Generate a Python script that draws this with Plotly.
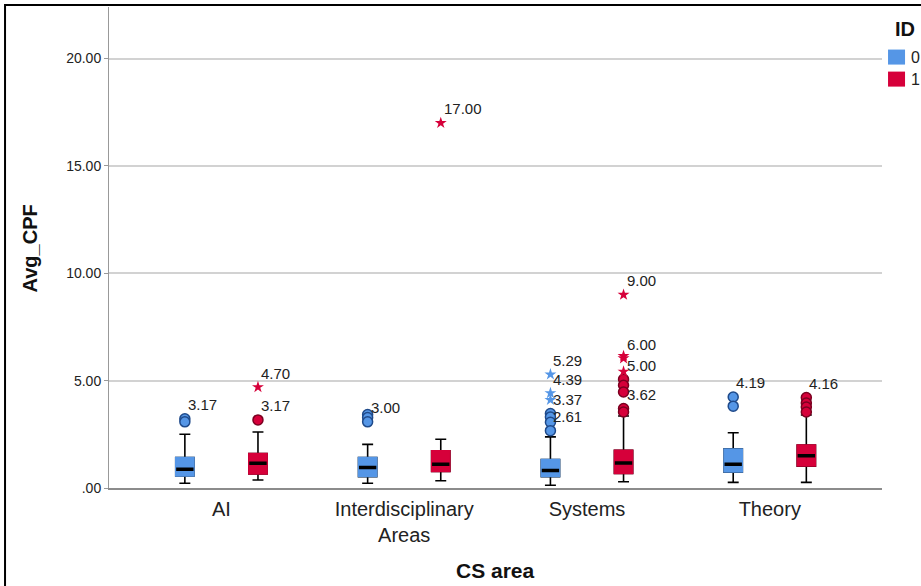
import plotly.graph_objects as go

# ---------------- data ----------------
categories = ["AI", "Interdisciplinary<br>Areas", "Systems", "Theory"]
id_names = ["0", "1"]

# ID 0 box statistics
q1_0 = [0.56, 0.53, 0.53, 0.74]
med_0 = [0.87, 0.96, 0.82, 1.11]
q3_0 = [1.42, 1.42, 1.33, 1.82]
lo_0 = [0.22, 0.22, 0.13, 0.26]
hi_0 = [2.50, 2.03, 2.38, 2.57]

# ID 1 box statistics
q1_1 = [0.65, 0.77, 0.68, 1.02]
med_1 = [1.15, 1.11, 1.17, 1.50]
q3_1 = [1.61, 1.73, 1.76, 2.00]
lo_1 = [0.37, 0.34, 0.29, 0.26]
hi_1 = [2.61, 2.27, 3.35, 3.40]

# outliers (circles) and extremes (stars), by category index
circ_cat_0 = [0, 0, 1, 1, 1, 2, 2, 2, 2, 3, 3]
circ_val_0 = [3.22, 3.08, 3.42, 3.28, 3.08, 3.47, 3.31, 3.06, 2.67, 4.24, 3.81]
star_cat_0 = [2, 2, 2]
star_val_0 = [5.29, 4.42, 4.10]

circ_cat_1 = [0, 2, 2, 2, 2, 2, 3, 3, 3, 3]
circ_val_1 = [3.17, 5.06, 4.78, 4.47, 3.70, 3.54, 4.21, 3.96, 3.77, 3.54]
star_cat_1 = [0, 1, 2, 2, 2, 2]
star_val_1 = [4.70, 17.00, 9.00, 6.15, 6.04, 5.42]

# point labels
lab_text_0 = ["3.17", "3.00", "5.29", "4.39", "3.37", "2.61", "4.19"]
lab_cat_0 = [0, 1, 2, 2, 2, 2, 3]
lab_val_0 = [3.22, 3.08, 5.29, 4.42, 3.47, 2.67, 4.24]

lab_text_1 = ["4.70", "3.17", "17.00", "9.00", "6.00", "5.00", "3.62", "4.16"]
lab_cat_1 = [0, 0, 1, 2, 2, 2, 2, 3]
lab_val_1 = [4.70, 3.17, 17.00, 9.00, 6.04, 5.06, 3.70, 4.21]

y_ticks = [0, 5, 10, 15, 20]
y_tick_text = [".00", "5.00", "10.00", "15.00", "20.00"]

# ---------------- style ----------------
FONT = "Liberation Sans, Arial, sans-serif"
fill_colors = ["#5596e6", "#d6003a"]
edge_colors = ["#1f4a8a", "#7a0020"]
offsets = [-0.2, 0.2]
BOX_W = 0.1

groups = [
    dict(q1=q1_0, med=med_0, q3=q3_0, lo=lo_0, hi=hi_0,
         cc=circ_cat_0, cv=circ_val_0, sc=star_cat_0, sv=star_val_0,
         lt=lab_text_0, lc=lab_cat_0, lv=lab_val_0),
    dict(q1=q1_1, med=med_1, q3=q3_1, lo=lo_1, hi=hi_1,
         cc=circ_cat_1, cv=circ_val_1, sc=star_cat_1, sv=star_val_1,
         lt=lab_text_1, lc=lab_cat_1, lv=lab_val_1),
]

fig = go.Figure()
annotations = []

for g, grp in enumerate(groups):
    pos = [i + offsets[g] for i in range(len(categories))]
    col = fill_colors[g]
    # layer A: whiskers + caps (black)
    fig.add_trace(go.Box(
        x=pos, q1=grp["q1"], median=grp["med"], q3=grp["q3"],
        lowerfence=grp["lo"], upperfence=grp["hi"],
        width=BOX_W, whiskerwidth=0.6, boxpoints=False,
        line=dict(color="black", width=1.6), fillcolor=col,
        showlegend=False, hoverinfo="skip"))
    # layer B: box body without black outline
    fig.add_trace(go.Box(
        x=pos, q1=grp["q1"], median=grp["q1"], q3=grp["q3"],
        lowerfence=grp["q1"], upperfence=grp["q3"],
        width=BOX_W, whiskerwidth=0, boxpoints=False,
        line=dict(color=col, width=1.5), fillcolor=col,
        showlegend=False, hoverinfo="skip"))
    # layer C: median line
    fig.add_trace(go.Box(
        x=pos, q1=grp["med"], median=grp["med"], q3=grp["med"],
        lowerfence=grp["med"], upperfence=grp["med"],
        width=BOX_W * 0.95, whiskerwidth=0, boxpoints=False,
        line=dict(color="black", width=3.5), fillcolor="rgba(0,0,0,0)",
        showlegend=False, hoverinfo="skip"))
    # outliers
    fig.add_trace(go.Scatter(
        x=[c + offsets[g] for c in grp["cc"]], y=grp["cv"], mode="markers",
        marker=dict(symbol="circle", size=10, color=col,
                    line=dict(color=edge_colors[g], width=1.5)),
        showlegend=False, hoverinfo="skip"))
    fig.add_trace(go.Scatter(
        x=[c + offsets[g] for c in grp["sc"]], y=grp["sv"], mode="markers",
        marker=dict(symbol="star", size=9, color=col, line=dict(width=0)),
        showlegend=False, hoverinfo="skip"))
    for t, c, v in zip(grp["lt"], grp["lc"], grp["lv"]):
        annotations.append(dict(
            x=c + offsets[g], y=v, xref="x", yref="y", text=t,
            showarrow=False, xanchor="left", yanchor="middle",
            xshift=1, yshift=14, font=dict(family=FONT, size=15, color="#222")))

# axis titles
annotations.append(dict(text="<b>Avg_CPF</b>", x=-0.1022, y=0.498, xref="paper", yref="paper",
                        xanchor="center", yanchor="middle",
                        textangle=-90, showarrow=False,
                        font=dict(family=FONT, size=20, color="#111")))
annotations.append(dict(text="<b>CS area</b>", x=0.5, y=-0.172, xref="paper", yref="paper",
                        xanchor="center", yanchor="middle",
                        showarrow=False, font=dict(family=FONT, size=21, color="#111")))

# legend (drawn manually to match the compact SPSS legend)
annotations.append(dict(text="<b>ID</b>", x=1.0142, y=0.9542, xref="paper", yref="paper",
                        xanchor="left", yanchor="middle", showarrow=False,
                        font=dict(family=FONT, size=20, color="#111")))
legend_y = [0.8959, 0.8501]
shapes = []
for k, name in enumerate(id_names):
    annotations.append(dict(text=name, x=1.0355, y=legend_y[k], xref="paper", yref="paper",
                            xanchor="left", yanchor="middle", showarrow=False,
                            font=dict(family=FONT, size=16, color="#222")))
    shapes.append(dict(type="rect", xref="paper", yref="paper",
                       x0=1.0078, x1=1.0298, y0=legend_y[k] - 0.0156, y1=legend_y[k] + 0.0156,
                       fillcolor=fill_colors[k], line=dict(width=0)))

# outer frame
shapes.append(dict(type="rect", xref="paper", yref="paper",
                   x0=-0.1345, x1=2, y0=-1, y1=1.004,
                   line=dict(color="black", width=2), fillcolor="rgba(0,0,0,0)",
                   layer="above"))

fig.update_layout(
    width=921, height=586,
    margin=dict(l=109, r=39, t=7, b=98),
    paper_bgcolor="white", plot_bgcolor="white",
    showlegend=False,
    annotations=annotations,
    shapes=shapes,
    font=dict(family=FONT, color="#222"),
    xaxis=dict(
        range=[-0.615, 3.614], tickmode="array",
        tickvals=list(range(len(categories))), ticktext=categories,
        showgrid=False, zeroline=False, showline=True, linecolor="#8c8c8c", linewidth=2,
        ticks="", ticklabelstandoff=2,
        tickfont=dict(family=FONT, size=20, color="#222"), fixedrange=True),
    yaxis=dict(
        range=[0, 22.4], tickmode="array", tickvals=y_ticks, ticktext=y_tick_text,
        showgrid=True, gridcolor="#d2d2d2", gridwidth=1.5, zeroline=False,
        showline=True, linecolor="#999999", linewidth=1,
        ticks="outside", ticklen=4, tickcolor="#999999",
        tickfont=dict(family=FONT, size=14, color="#222"), fixedrange=True),
)

fig.write_html(
    "out.html",
    config={"displayModeBar": False},
    post_script="document.body.style.margin='0';document.body.style.overflow='hidden';",
)
